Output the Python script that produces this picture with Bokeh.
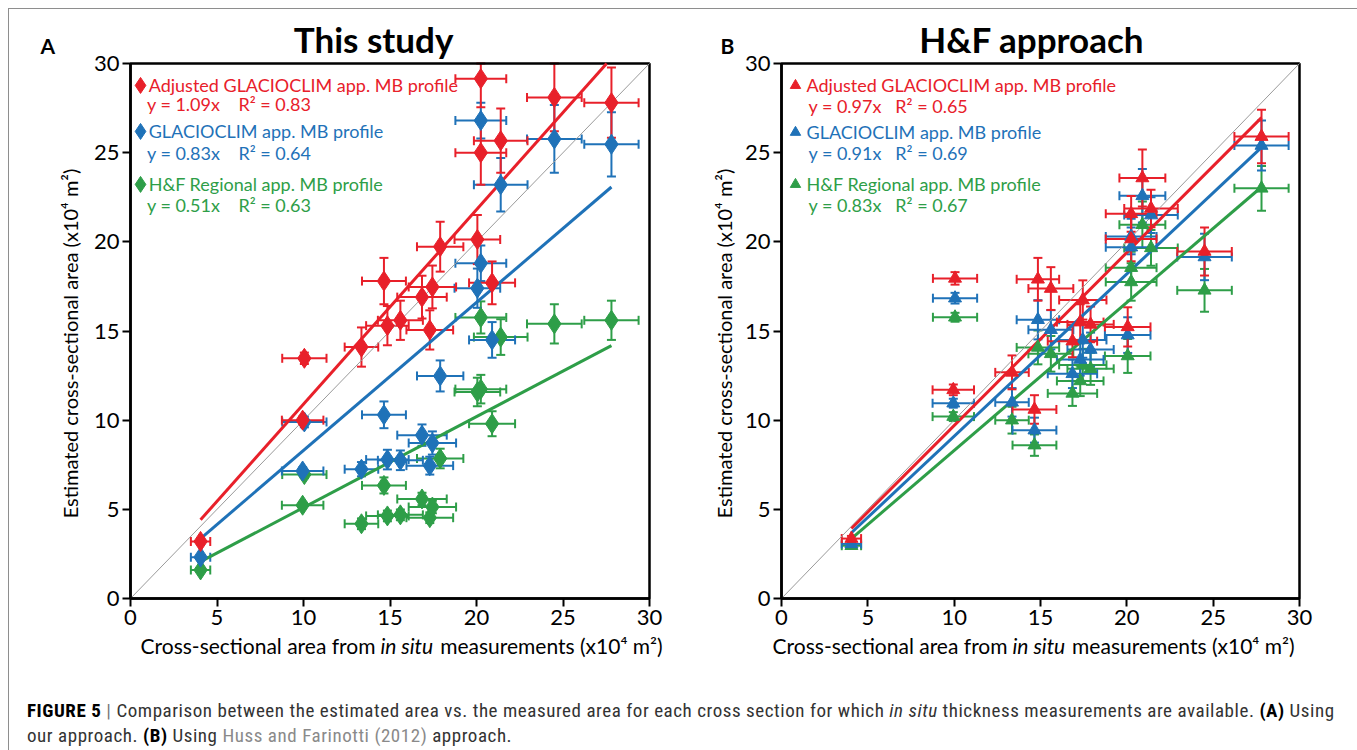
import numpy as np
from bokeh.plotting import figure
from bokeh.models import ColumnDataSource, Whisker, TeeHead, Label, FixedTicker, Range1d, Div
from bokeh.layouts import row, column
from bokeh.embed import file_html
from bokeh.resources import INLINE

RED = "#e8202a"
BLUE = "#1f72b8"
GREEN = "#2e9e48"
FONT = "Lato"

axis_limits = [0, 30]
tick_values = [0, 5, 10, 15, 20, 25, 30]

# measured cross-sectional area (x10^4 m2) and its uncertainty
x_measured = [4.05, 10.05, 9.95, 13.35, 14.65, 14.85, 15.6, 16.85, 17.3, 17.45, 17.9,
              20.05, 20.25, 20.9, 20.25, 21.4, 24.5, 27.8]
x_error = [0.56, 1.28, 1.2, 0.97, 1.27, 1.23, 1.3, 1.43, 1.35, 1.37, 1.34,
           1.32, 1.47, 1.33, 1.47, 1.55, 1.58, 1.57]

# Panel A (This study)
a_adjusted = [3.2, 13.47, 10.0, 14.1, 17.8, 15.3, 15.6, 16.9, 15.06, 17.47, 19.73,
              20.13, 25.0, 17.7, 29.15, 25.67, 28.1, 27.8]
a_adjusted_err = [0.1, 0.32, 0.2, 1.1, 1.3, 1.1, 1.1, 1.2, 1.1, 1.2, 1.4,
                  1.38, 1.8, 1.2, 1.6, 1.8, 1.9, 1.97]
a_glacioclim = [2.32, 9.9, 7.15, 7.25, 10.3, 7.79, 7.75, 9.16, 7.45, 8.72, 12.48,
                17.4, 18.8, 14.5, 26.8, 23.2, 25.77, 25.47]
a_glacioclim_err = [0.1, 0.3, 0.2, 0.4, 0.75, 0.55, 0.55, 0.6, 0.5, 0.65, 0.87,
                    1.1, 1.0, 1.0, 1.0, 1.5, 1.9, 1.8]
a_regional = [1.6, 6.95, 5.23, 4.19, 6.34, 4.63, 4.69, 5.58, 4.53, 5.13, 7.85,
              11.58, 11.74, 9.8, 15.76, 14.66, 15.4, 15.6]
a_regional_err = [0.1, 0.2, 0.15, 0.3, 0.45, 0.3, 0.3, 0.35, 0.3, 0.35, 0.55,
                  0.8, 0.8, 0.7, 0.9, 1.0, 1.1, 1.1]
a_slopes = [1.09, 0.83, 0.51]
a_r2 = ["0.83", "0.64", "0.63"]

# Panel B (H&F approach)
b_adjusted = [3.36, 17.95, 11.7, 12.68, 10.6, 17.9, 17.38, 14.43, 15.5, 16.74, 15.37,
              15.23, 21.57, 23.58, 20.16, 21.87, 19.46, 25.9]
b_adjusted_err = [0.15, 0.35, 0.3, 0.95, 0.8, 1.2, 1.2, 0.9, 1.0, 1.1, 1.0,
                  1.1, 1.0, 1.6, 1.25, 1.05, 1.35, 1.5]
b_glacioclim = [3.06, 16.84, 10.95, 11.0, 9.44, 15.63, 15.07, 12.6, 13.4, 14.5, 13.96,
                14.77, 20.3, 22.58, 19.7, 21.5, 19.15, 25.4]
b_glacioclim_err = [0.15, 0.3, 0.25, 0.8, 0.7, 1.1, 1.1, 0.8, 0.9, 1.0, 0.95,
                    1.0, 1.0, 1.5, 1.1, 1.0, 1.3, 1.4]
b_regional = [2.96, 15.77, 10.2, 10.0, 8.6, 14.08, 13.72, 11.5, 12.2, 13.1, 12.88,
              13.6, 18.55, 20.96, 17.75, 19.66, 17.28, 23.0]
b_regional_err = [0.15, 0.25, 0.25, 0.75, 0.6, 0.95, 1.0, 0.7, 0.85, 0.9, 0.9,
                  0.95, 0.9, 1.3, 1.05, 1.0, 1.2, 1.25]
b_slopes = [0.97, 0.91, 0.83]
b_r2 = ["0.65", "0.69", "0.67"]

series_names = ["Adjusted GLACIOCLIM app. MB profile", "GLACIOCLIM app. MB profile",
                "H&F Regional app. MB profile"]
series_colors = [RED, BLUE, GREEN]

NB = "\u00a0"
FIG_TOP_PX, FIG_BOTTOM_PX = 9, 690
Y0_PX, Y30_PX = 598, 63


def label(p, x, y, text, size, color="black", style="normal", align="left",
          baseline="middle", angle=0.0):
    p.add_layout(Label(x=x, y=y, text=text, text_font=FONT, text_font_size=size,
                       text_font_style=style, text_color=color, text_align=align,
                       text_baseline=baseline, angle=angle))


def make_panel(ys, yerrs, slopes, r2s, marker, msize, title, letter, cfg):
    left_px, right_px, x0_px, x30_px = cfg["px"]
    sx = (x30_px - x0_px) / axis_limits[1]
    sy = (Y0_PX - Y30_PX) / axis_limits[1]
    xr = Range1d((left_px - x0_px) / sx, (right_px - x0_px) / sx)
    yr = Range1d((Y0_PX - FIG_BOTTOM_PX) / sy, (Y0_PX - FIG_TOP_PX) / sy)
    p = figure(frame_width=right_px - left_px, frame_height=FIG_BOTTOM_PX - FIG_TOP_PX,
               output_backend="svg", toolbar_location=None, x_range=xr, y_range=yr,
               min_border=0)
    p.background_fill_color = "white"
    p.border_fill_color = "white"
    p.xgrid.visible = False
    p.ygrid.visible = False
    p.outline_line_color = None
    for ax in (p.xaxis[0], p.yaxis[0]):
        ax.fixed_location = 0
        ax.bounds = (axis_limits[0], axis_limits[1])
        ax.ticker = FixedTicker(ticks=tick_values)
        ax.axis_line_width = 2.5
        ax.axis_line_color = "black"
        ax.major_tick_line_width = 2
        ax.major_tick_out = 8
        ax.major_tick_in = 0
        ax.minor_tick_out = 0
        ax.minor_tick_in = 0
        ax.major_label_text_font = FONT
        ax.major_label_text_font_size = "22px"
        ax.major_label_text_color = "black"
        ax.major_label_standoff = 3

    # plot box (top / right edges)
    p.quad(left=[axis_limits[0]], right=[axis_limits[1]], bottom=[axis_limits[0]],
           top=[axis_limits[1]], fill_color=None, line_color="black", line_width=2.5)

    # 1:1 line
    p.line(axis_limits, axis_limits, line_color="#9a9a9a", line_width=1)

    xm = np.array(x_measured)
    xe = np.array(x_error)
    # regression lines (clipped at the plot box)
    for slope, col in zip(slopes, series_colors):
        fx = np.array([xm.min(), min(xm.max(), axis_limits[1] / slope)])
        p.line(fx, slope * fx, line_color=col, line_width=3)

    # draw green, blue, red so red is on top
    for i in [2, 1, 0]:
        y = np.array(ys[i])
        ye = np.array(yerrs[i])
        col = series_colors[i]
        src = ColumnDataSource(dict(x=xm, y=y,
                                    xlo=xm - xe, xhi=xm + xe,
                                    ylo=np.maximum(y - ye, axis_limits[0]),
                                    yhi=np.minimum(y + ye, axis_limits[1])))
        for dim, base, lo, hi in (("width", "y", "xlo", "xhi"), ("height", "x", "ylo", "yhi")):
            w = Whisker(source=src, base=base, lower=lo, upper=hi, dimension=dim,
                        line_color=col, line_width=2,
                        upper_head=TeeHead(size=9, line_color=col, line_width=2),
                        lower_head=TeeHead(size=9, line_color=col, line_width=2))
            p.add_layout(w)
        p.scatter("x", "y", source=src, marker=marker, size=msize,
                  fill_color=col, line_color=col, line_width=1)

    # legend-like annotation text
    for i in range(3):
        col = series_colors[i]
        y1, y2 = cfg["ly"][i]
        p.scatter([cfg["mx"]], [y1], marker=marker, size=msize * 0.8,
                  fill_color=col, line_color=col)
        label(p, cfg["tx"], y1, series_names[i], "18px", color=col)
        eq = "y = %.2fx" % slopes[i] + NB * cfg["gap"] + "R\u00b2 = " + r2s[i]
        label(p, cfg["tx2"], y2, eq, "18px", color=col)

    # title and panel letter
    label(p, cfg["titx"], 31.4, title, "35px", style="bold", align="center")
    label(p, cfg["letx"], 31.0, letter, "21px", style="bold")

    # axis labels
    xl = cfg["xl"]
    label(p, xl[0], -2.64, "Cross-sectional area from", "21px", align="right")
    label(p, xl[1], -2.64, "in situ", "21px", style="italic")
    label(p, xl[2], -2.64, "measurements (x10\u2074 m\u00b2)", "21px")
    label(p, cfg["ylx"], 14.3, "Estimated cross-sectional area (x10\u2074 m\u00b2)", "20px",
          align="center", angle=np.pi / 2)
    return p


cfgA = dict(px=(9, 680, 130, 649), mx=0.58, tx=1.05, tx2=0.95, gap=4,
            ly=[(28.77, 27.71), (26.19, 24.96), (23.22, 22.04)],
            titx=14.05, letx=-5.2, xl=(14.16, 14.45, 17.9), ylx=-3.5)
cfgB = dict(px=(680, 1348, 781, 1299), mx=0.81, tx=1.45, tx2=1.56, gap=3,
            ly=[(28.77, 27.6), (26.14, 24.96), (23.22, 22.04)],
            titx=14.5, letx=-3.53, xl=(13.09, 13.38, 16.83), ylx=-3.35)

pA = make_panel([a_adjusted, a_glacioclim, a_regional],
                [a_adjusted_err, a_glacioclim_err, a_regional_err],
                a_slopes, a_r2, "diamond", 20, "This study", "A", cfgA)
pB = make_panel([b_adjusted, b_glacioclim, b_regional],
                [b_adjusted_err, b_glacioclim_err, b_regional_err],
                b_slopes, b_r2, "triangle", 13, "H&F approach", "B", cfgB)

caption_html = (
    "<div style=\"font-family:'Liberation Sans Narrow','Arial Narrow','Roboto Condensed',sans-serif;"
    "font-size:19px;letter-spacing:0.55px;color:#333;line-height:25px;padding:3px 0 0 13px;white-space:nowrap\">"
    "<b style='color:#000'>FIGURE 5</b> <span style='color:#777'>|</span> Comparison between the estimated area vs. "
    "the measured area for each cross section for which <i>in situ</i> thickness measurements are available. "
    "<b style='color:#000'>(A)</b> Using<br>our approach. <b style='color:#000'>(B)</b> Using "
    "<span style='color:#8a8a8a'>Huss and Farinotti (2012)</span> approach.</div>"
)
cap = Div(text=caption_html, width=1339, height=58)

layout = column(row(pA, pB), cap,
                styles={"border": "1px solid #8e8e8e", "border-bottom": "none"},
                margin=(8, 0, 0, 8))

html = file_html(layout, INLINE, title="Figure 5")
with open("out.html", "w") as f:
    f.write(html)
